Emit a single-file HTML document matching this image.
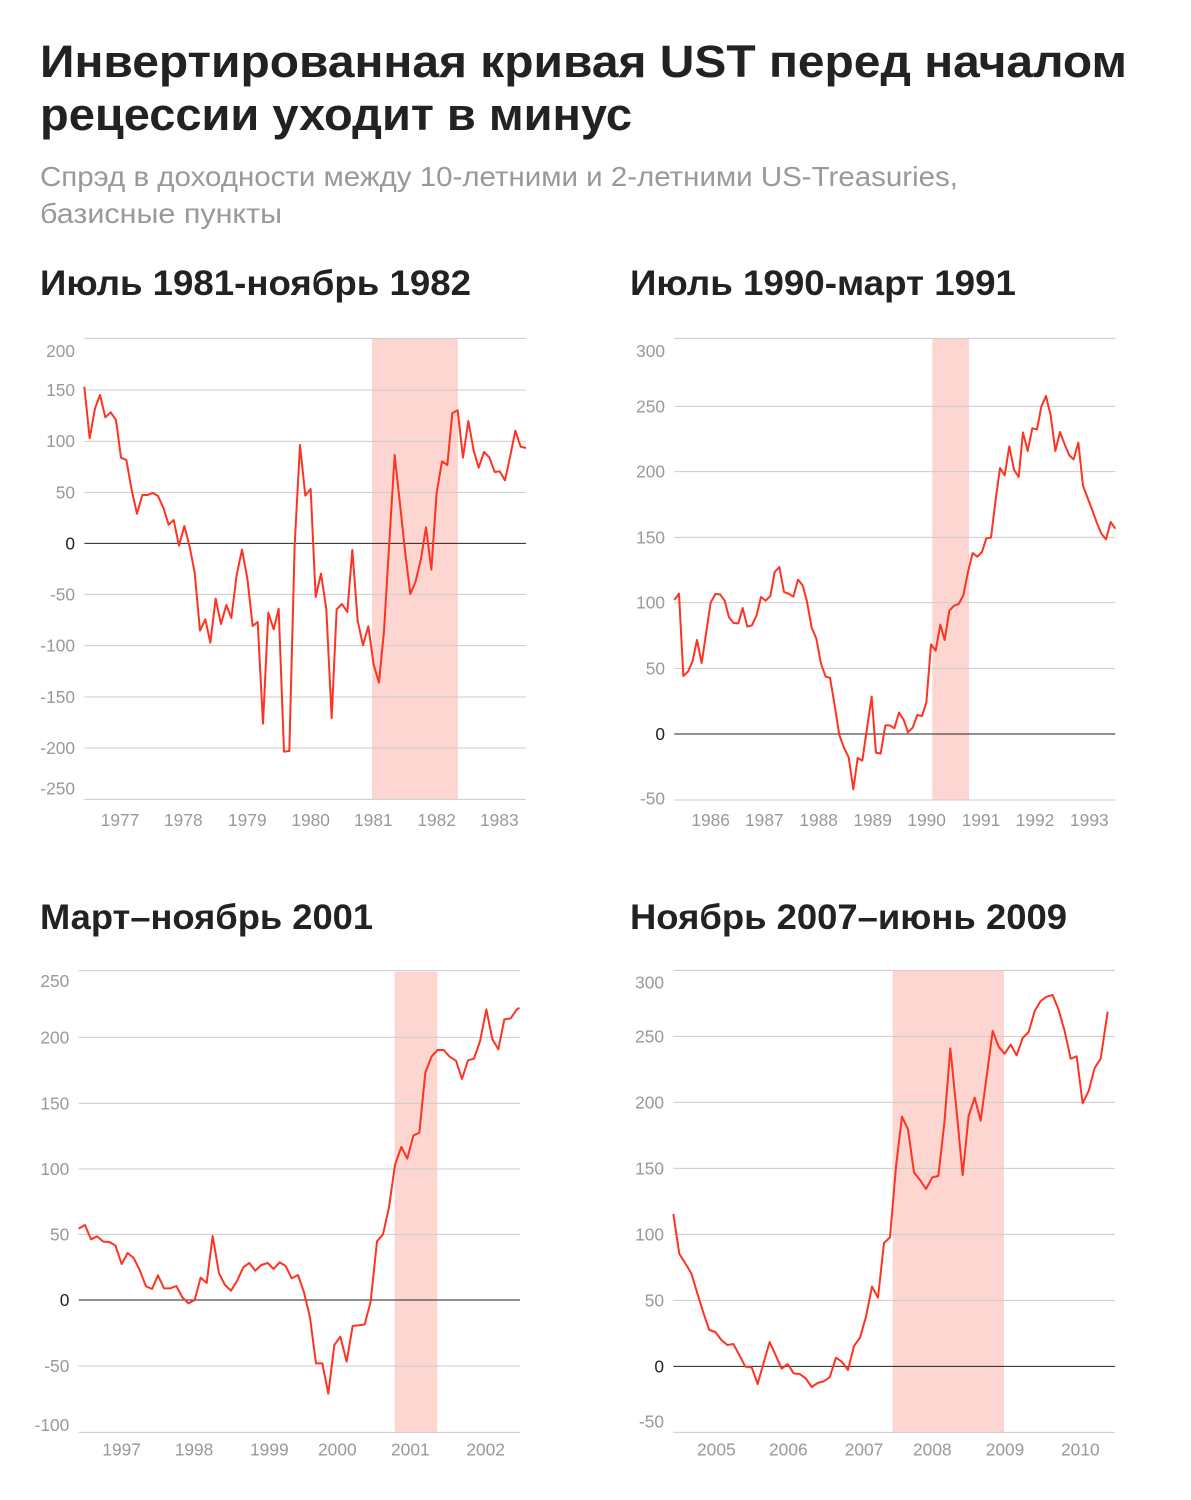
<!DOCTYPE html>
<html><head><meta charset="utf-8"><style>
html,body{margin:0;padding:0;background:#fff}
svg{display:block}
.t{font-family:"Liberation Sans","Noto Sans CJK SC",sans-serif;}
</style></head><body>
<svg width="1191" height="1500" viewBox="0 0 1191 1500" xmlns="http://www.w3.org/2000/svg" class="t">
<text x="40" y="77" font-size="45" font-weight="bold" fill="#222" textLength="1087" lengthAdjust="spacingAndGlyphs">Инвертированная кривая UST перед началом</text>
<text x="40" y="130" font-size="45" font-weight="bold" fill="#222" textLength="592" lengthAdjust="spacingAndGlyphs">рецессии уходит в минус</text>
<text x="40" y="186" font-size="28" fill="#999" textLength="918" lengthAdjust="spacingAndGlyphs">Спрэд в доходности между 10-летними и 2-летними US-Treasuries,</text>
<text x="40" y="223" font-size="28" fill="#999" textLength="242" lengthAdjust="spacingAndGlyphs">базисные пункты</text>
<text x="40" y="295" font-size="35" font-weight="bold" fill="#222" textLength="431" lengthAdjust="spacingAndGlyphs">Июль 1981-ноябрь 1982</text>
<text x="630" y="295" font-size="35" font-weight="bold" fill="#222" textLength="386" lengthAdjust="spacingAndGlyphs">Июль 1990-март 1991</text>
<text x="40" y="929" font-size="35" font-weight="bold" fill="#222" textLength="333" lengthAdjust="spacingAndGlyphs">Март–ноябрь 2001</text>
<text x="630" y="929" font-size="35" font-weight="bold" fill="#222" textLength="437" lengthAdjust="spacingAndGlyphs">Ноябрь 2007–июнь 2009</text>

<!-- Chart 1 -->
<g transform="translate(30,330) scale(0.33333)" font-size="52" fill="#999">
<rect x="1026" y="25" width="258" height="1383" fill="#fdd5d1"/>
<g stroke="#ccc" stroke-width="3">
<line x1="163" x2="1488" y1="25" y2="25"/><line x1="163" x2="1488" y1="180" y2="180"/><line x1="163" x2="1488" y1="334" y2="334"/><line x1="163" x2="1488" y1="487" y2="487"/><line x1="163" x2="1488" y1="793" y2="793"/><line x1="163" x2="1488" y1="947" y2="947"/><line x1="163" x2="1488" y1="1101" y2="1101"/><line x1="163" x2="1488" y1="1254" y2="1254"/><line x1="163" x2="1488" y1="1408" y2="1408"/>
</g>
<line x1="163" x2="1488" y1="640" y2="640" stroke="#222" stroke-width="3"/>
<g text-anchor="end">
<text x="135" y="81">200</text><text x="135" y="198">150</text><text x="135" y="351">100</text><text x="135" y="506">50</text><text x="135" y="658" fill="#222">0</text><text x="135" y="811">-50</text><text x="135" y="965">-100</text><text x="135" y="1119">-150</text><text x="135" y="1272">-200</text><text x="135" y="1393">-250</text>
</g>
<g text-anchor="middle">
<text x="270" y="1488">1977</text><text x="460" y="1488">1978</text><text x="652" y="1488">1979</text><text x="842" y="1488">1980</text><text x="1030" y="1488">1981</text><text x="1220" y="1488">1982</text><text x="1408" y="1488">1983</text>
</g>
<polyline fill="none" stroke="#ff3322" stroke-width="6" stroke-linejoin="round" points="163,170 179,325 195,235 210,195 226,262 242,247 258,270 273,383 289,390 305,480 321,551 337,495 353,495 369,489 384,498 400,533 416,584 431,570 447,647 463,588 479,650 494,728 510,902 526,868 541,938 557,806 573,882 589,825 604,864 620,735 636,659 652,745 668,888 683,876 699,1181 715,848 731,898 746,836 762,1265 778,1263 794,645 810,345 826,497 842,477 857,801 873,731 889,838 905,1164 920,838 936,822 952,846 967,660 983,872 999,946 1015,889 1031,1004 1047,1058 1062,903 1078,636 1094,375 1110,522 1126,670 1141,792 1157,754 1173,686 1188,592 1204,719 1220,488 1236,394 1252,405 1267,249 1283,241 1299,383 1315,273 1331,361 1346,413 1362,366 1378,382 1394,426 1409,424 1425,451 1441,377 1456,302 1472,350 1488,354"/>
</g>

<!-- Chart 2 -->
<g transform="translate(620,330) scale(0.33333)" font-size="52" fill="#999">
<rect x="937" y="25" width="110" height="1385" fill="#fdd5d1"/>
<g stroke="#ccc" stroke-width="3">
<line x1="163" x2="1486" y1="25" y2="25"/><line x1="163" x2="1486" y1="229" y2="229"/><line x1="163" x2="1486" y1="425" y2="425"/><line x1="163" x2="1486" y1="622" y2="622"/><line x1="163" x2="1486" y1="818" y2="818"/><line x1="163" x2="1486" y1="1015" y2="1015"/><line x1="163" x2="1486" y1="1410" y2="1410"/>
</g>
<line x1="163" x2="1486" y1="1212" y2="1212" stroke="#222" stroke-width="3"/>
<g text-anchor="end">
<text x="135" y="81">300</text><text x="135" y="247">250</text><text x="135" y="443">200</text><text x="135" y="640">150</text><text x="135" y="836">100</text><text x="135" y="1033">50</text><text x="135" y="1230" fill="#222">0</text><text x="135" y="1423">-50</text>
</g>
<g text-anchor="middle">
<text x="272" y="1488">1986</text><text x="433" y="1488">1987</text><text x="596" y="1488">1988</text><text x="758" y="1488">1989</text><text x="920" y="1488">1990</text><text x="1083" y="1488">1991</text><text x="1245" y="1488">1992</text><text x="1408" y="1488">1993</text>
</g>
<polyline fill="none" stroke="#ff3322" stroke-width="6" stroke-linejoin="round" points="163,810 177,791 190,1038 204,1025 218,993 231,930 245,999 259,905 272,818 286,792 300,793 314,812 327,862 341,879 355,880 368,834 382,890 396,886 410,855 423,801 437,812 451,798 464,726 478,711 492,786 506,791 520,800 534,749 548,766 561,815 575,893 589,926 603,1001 617,1040 630,1043 644,1126 658,1215 672,1253 686,1282 700,1378 713,1284 727,1292 741,1195 755,1100 768,1268 782,1271 796,1186 809,1186 823,1195 837,1148 851,1169 864,1207 878,1193 892,1155 906,1158 919,1118 933,943 947,962 961,884 974,930 988,842 1002,827 1016,822 1030,796 1044,726 1058,669 1072,680 1086,666 1099,625 1113,623 1127,509 1140,414 1154,436 1168,349 1182,419 1196,441 1209,307 1223,363 1237,295 1251,298 1264,230 1278,198 1292,256 1306,363 1320,306 1334,343 1348,376 1361,388 1375,338 1389,467 1403,504 1417,541 1430,577 1444,611 1458,628 1472,576 1486,596"/>
</g>

<!-- Chart 3 -->
<g transform="translate(30,960) scale(0.33333)" font-size="52" fill="#999">
<rect x="1094" y="35" width="128" height="1382" fill="#fdd5d1"/>
<g stroke="#ccc" stroke-width="3">
<line x1="146" x2="1470" y1="32" y2="32"/><line x1="146" x2="1470" y1="232" y2="232"/><line x1="146" x2="1470" y1="430" y2="430"/><line x1="146" x2="1470" y1="627" y2="627"/><line x1="146" x2="1470" y1="823" y2="823"/><line x1="146" x2="1470" y1="1218" y2="1218"/><line x1="146" x2="1470" y1="1417" y2="1417"/>
</g>
<line x1="146" x2="1470" y1="1020" y2="1020" stroke="#222" stroke-width="3"/>
<g text-anchor="end">
<text x="118" y="81">250</text><text x="118" y="250">200</text><text x="118" y="448">150</text><text x="118" y="645">100</text><text x="118" y="841">50</text><text x="118" y="1038" fill="#222">0</text><text x="118" y="1236">-50</text><text x="118" y="1413">-100</text>
</g>
<g text-anchor="middle">
<text x="275" y="1486">1997</text><text x="492" y="1486">1998</text><text x="718" y="1486">1999</text><text x="922" y="1486">2000</text><text x="1141" y="1486">2001</text><text x="1367" y="1486">2002</text>
</g>
<polyline fill="none" stroke="#ff3322" stroke-width="6" stroke-linejoin="round" points="146,806 165,795 183,838 201,829 220,845 238,846 256,856 275,912 293,879 311,894 329,930 348,979 366,987 384,946 402,985 421,985 439,978 457,1012 475,1030 494,1020 512,953 530,969 548,828 567,940 585,975 603,992 621,963 640,922 658,909 676,932 694,915 713,909 731,927 749,907 767,918 785,955 804,945 822,997 840,1072 858,1210 877,1210 895,1301 913,1155 931,1130 950,1205 968,1098 986,1096 1004,1093 1022,1025 1041,844 1059,823 1077,742 1095,614 1114,561 1132,596 1150,527 1168,518 1186,338 1205,289 1223,270 1241,270 1259,290 1278,302 1296,357 1314,301 1332,296 1350,244 1369,148 1387,237 1405,268 1423,178 1442,175 1460,149 1468,143"/>
</g>

<!-- Chart 4 -->
<g transform="translate(620,960) scale(0.33333)" font-size="52" fill="#999">
<rect x="818" y="31" width="334" height="1386" fill="#fdd5d1"/>
<g stroke="#ccc" stroke-width="3">
<line x1="160" x2="1485" y1="31" y2="31"/><line x1="160" x2="1485" y1="229" y2="229"/><line x1="160" x2="1485" y1="427" y2="427"/><line x1="160" x2="1485" y1="625" y2="625"/><line x1="160" x2="1485" y1="823" y2="823"/><line x1="160" x2="1485" y1="1021" y2="1021"/><line x1="160" x2="1485" y1="1417" y2="1417"/>
</g>
<line x1="160" x2="1485" y1="1219" y2="1219" stroke="#222" stroke-width="3"/>
<g text-anchor="end">
<text x="132" y="86">300</text><text x="132" y="247">250</text><text x="132" y="445">200</text><text x="132" y="643">150</text><text x="132" y="841">100</text><text x="132" y="1039">50</text><text x="132" y="1237" fill="#222">0</text><text x="132" y="1403">-50</text>
</g>
<g text-anchor="middle">
<text x="289" y="1486">2005</text><text x="505" y="1486">2006</text><text x="732" y="1486">2007</text><text x="937" y="1486">2008</text><text x="1155" y="1486">2009</text><text x="1381" y="1486">2010</text>
</g>
<polyline fill="none" stroke="#ff3322" stroke-width="6" stroke-linejoin="round" points="160,762 178,882 196,910 214,940 232,1000 250,1058 268,1110 286,1116 304,1140 322,1155 340,1152 358,1185 376,1220 395,1222 413,1272 431,1208 449,1146 467,1186 485,1226 503,1212 521,1240 539,1242 557,1255 575,1281 593,1269 611,1264 629,1252 648,1193 666,1206 684,1230 702,1158 720,1133 738,1070 756,980 774,1013 792,849 810,832 828,620 846,470 864,508 882,637 900,660 918,687 937,652 955,648 973,490 991,265 1010,455 1028,645 1046,468 1064,413 1082,482 1100,350 1118,213 1136,260 1154,281 1172,254 1190,286 1208,234 1226,216 1244,153 1262,123 1280,110 1298,105 1316,150 1334,213 1352,296 1370,289 1388,430 1406,393 1424,324 1442,296 1463,155"/>
</g>
</svg>
</body></html>
